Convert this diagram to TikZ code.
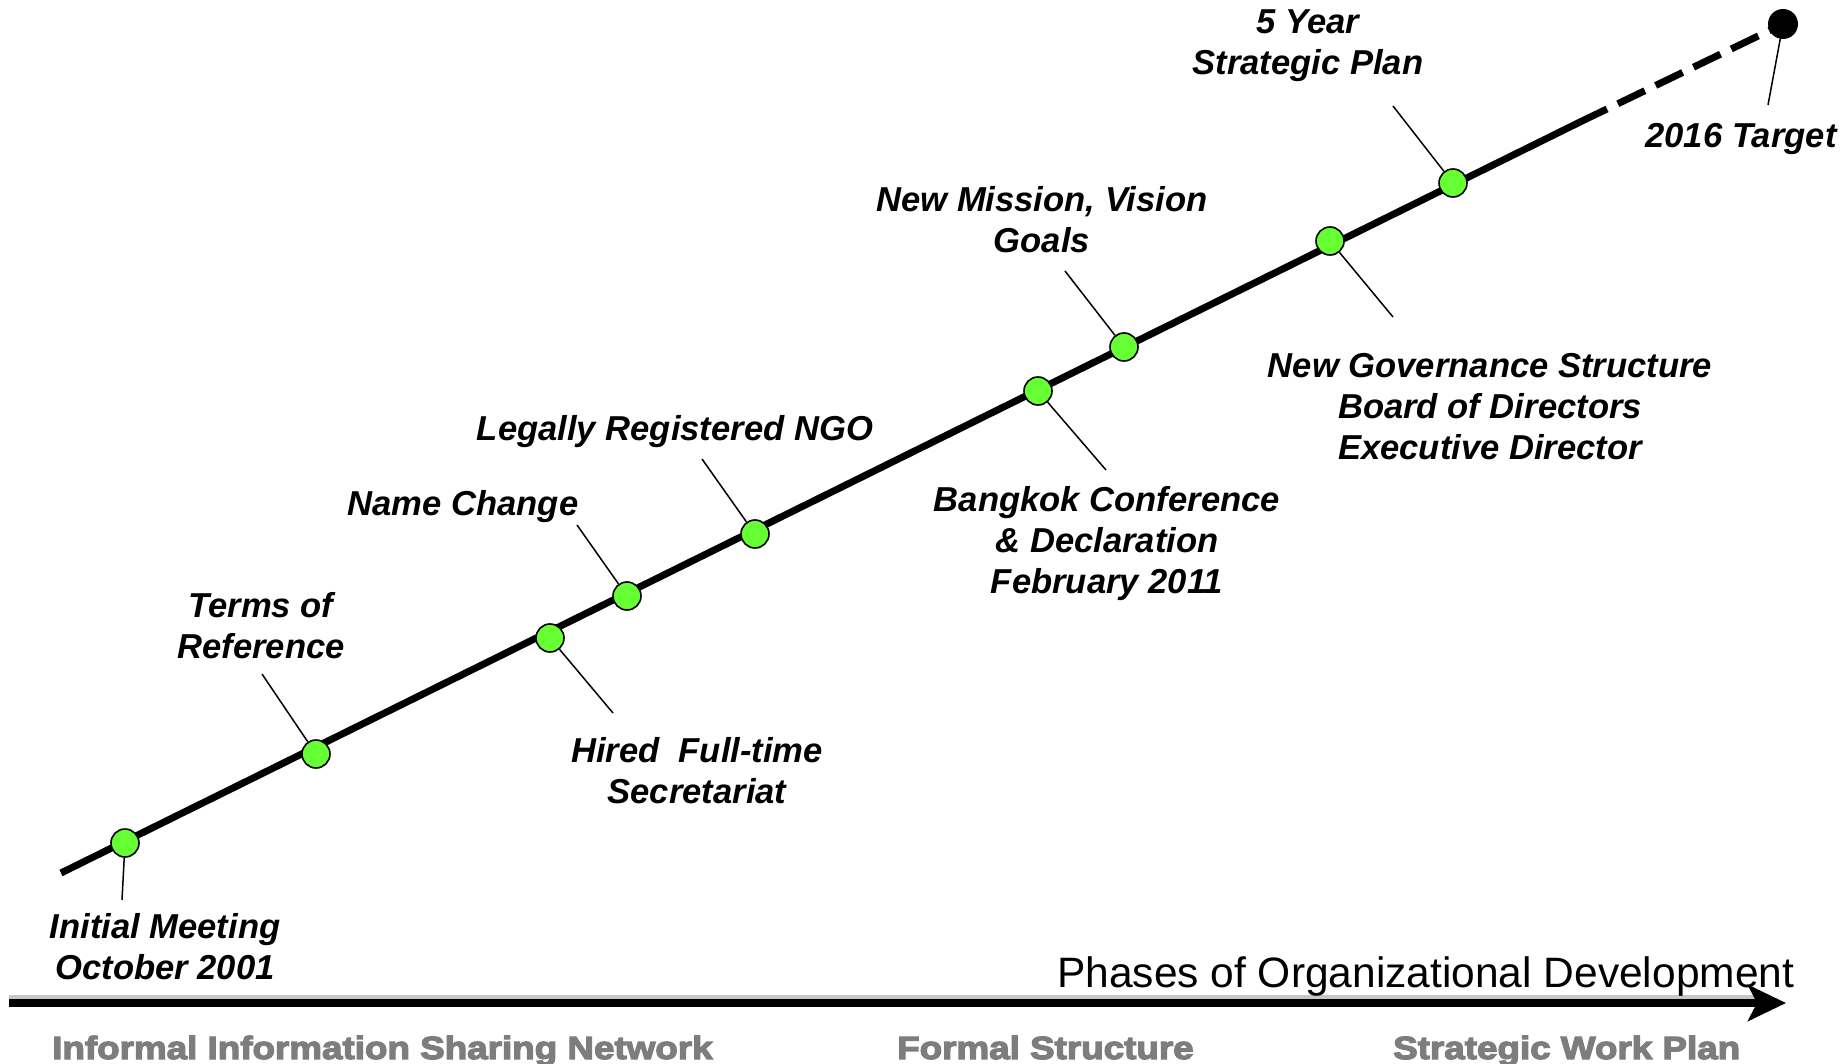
\documentclass[tikz,border=0pt]{standalone}
\usepackage{fontspec}
\setmainfont{Liberation Sans}
\newfontfamily\phasefont{Liberation Sans}[UprightFont={* Bold},FakeStretch=1.15,FakeBold=4]
\usetikzlibrary{arrows.meta}
\definecolor{dotgreen}{RGB}{102,255,51}
\definecolor{phasegray}{RGB}{125,125,125}
\begin{document}
\begin{tikzpicture}[x=1pt,y=-1pt,
  milestone/.style={circle,draw=black,line width=1.6pt,fill=dotgreen,minimum size=28pt,inner sep=0pt},
  targetdot/.style={circle,fill=black,minimum size=30pt,inner sep=0pt},
  lbl/.style={font=\fontsize{34.6}{41}\selectfont\bfseries\itshape,align=center,inner sep=0pt},
  leader/.style={line width=1.5pt},
  phase/.style={font=\phasefont\fontsize{32}{38}\selectfont,text=phasegray,anchor=base west,inner sep=0pt},
  timeline/.style={line width=7pt},
  devarrow/.style={line width=8pt,-{Stealth[length=38pt,width=36pt,inset=9pt]}}
]
\useasboundingbox (0,0) rectangle (1845,1064);

% main timeline
\coordinate (lstart) at (61,873);
\coordinate (lsolid) at (1580,122);
\coordinate (lend) at (1783,24);
\draw[timeline] (lstart) -- (lsolid);
\draw[timeline,dash pattern=on 30pt off 12pt] (lsolid) -- (lend);

% milestones
\node[milestone] (m1) at (125,843) {};
\node[milestone] (m2) at (316,754) {};
\node[milestone] (m3) at (550,638) {};
\node[milestone] (m4) at (627,596) {};
\node[milestone] (m5) at (755,534) {};
\node[milestone] (m6) at (1038,391) {};
\node[milestone] (m7) at (1124,347) {};
\node[milestone] (m8) at (1330,241) {};
\node[milestone] (m9) at (1453,183) {};
\node[targetdot] (tgt) at (lend) {};

% labels
\node[lbl] (t1) at (165,951) {\strut Initial Meeting\\\strut October 2001};
\node[lbl] (t2) at (261,630) {\strut Terms of\\\strut Reference};
\node[lbl] (t3) at (697,775) {\strut Hired\ \ Full-time\\\strut Secretariat};
\node[lbl] (t4) at (463,507) {\strut Name Change};
\node[lbl] (t5) at (675,432) {\strut Legally Registered NGO};
\node[lbl] (t6) at (1107,544) {\strut Bangkok Conference\\\strut \& Declaration\\\strut February 2011};
\node[lbl] (t7) at (1042,224) {\strut New Mission, Vision\\\strut Goals};
\node[lbl] (t8) at (1490,410) {\strut New Governance Structure\\\strut Board of Directors\\\strut Executive Director};
\node[lbl] (t9) at (1308,46) {\strut 5 Year\\\strut Strategic Plan};
\node[lbl] (t10) at (1741,139) {\strut 2016 Target};

% leader ends
\coordinate (e1) at (122,900);
\coordinate (e2) at (262,674);
\coordinate (e3) at (613,713);
\coordinate (e4) at (577,525);
\coordinate (e5) at (702,459);
\coordinate (e6) at (1106,470);
\coordinate (e7) at (1065,271);
\coordinate (e8) at (1393,317);
\coordinate (e9) at (1393,106);
\coordinate (e10) at (1768,105);
\foreach \i/\m in {1/m1,2/m2,3/m3,4/m4,5/m5,6/m6,7/m7,8/m8,9/m9,10/tgt}
  \draw[leader] (\m) -- (e\i);

% phases arrow
\coordinate (astart) at (9,1003);
\coordinate (aend) at (1786,1003);
\draw[line width=6pt,black!22,line cap=butt] ([yshift=5pt]astart) -- ([xshift=-30pt,yshift=5pt]aend);
\draw[devarrow] (astart) -- (aend);
\node[font=\fontsize{42.5}{50}\selectfont,anchor=base west,inner sep=0pt] (ptitle) at (1057,987) {Phases of Organizational Development};

\node[phase] (ph1) at (52,1059) {Informal Information Sharing Network};
\node[phase] (ph2) at (897,1059) {Formal Structure};
\node[phase] (ph3) at (1393,1059) {Strategic Work Plan};
\end{tikzpicture}
\end{document}
